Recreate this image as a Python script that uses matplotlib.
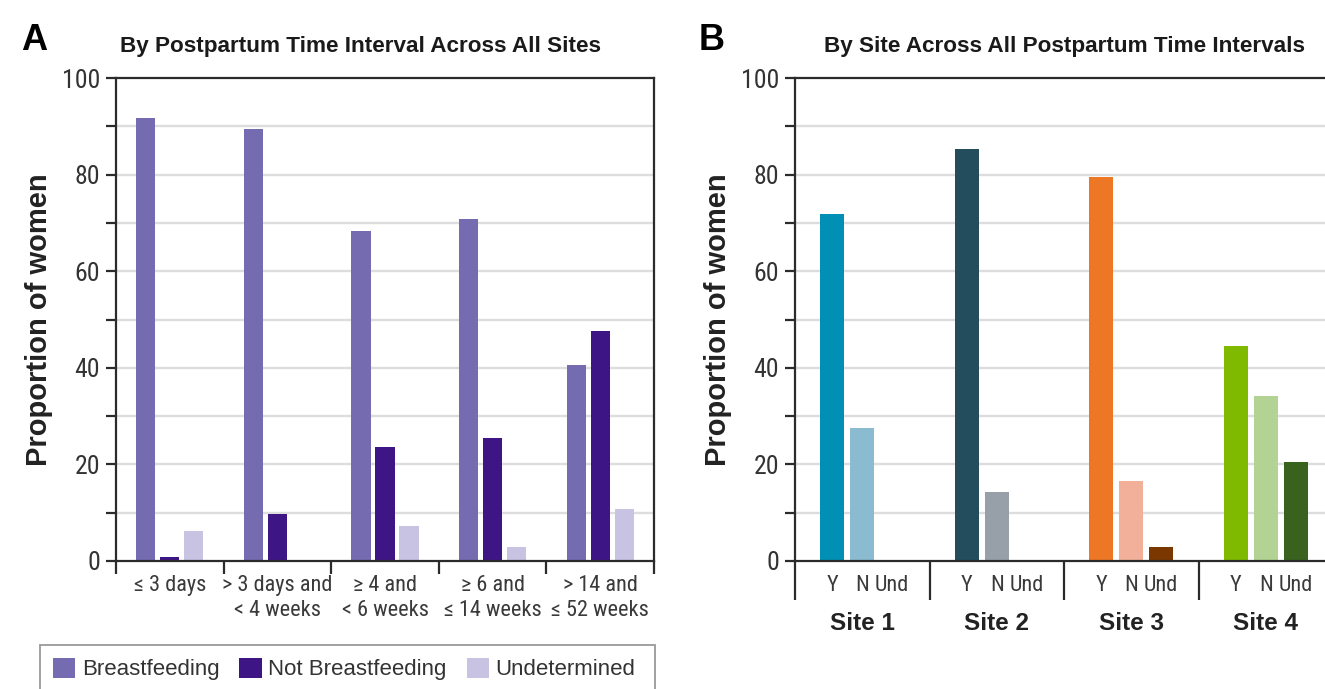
import numpy as np
import matplotlib.pyplot as plt
from matplotlib.patches import Rectangle, Patch
from matplotlib import font_manager
from matplotlib.font_manager import FontProperties

# Panel A: status by postpartum interval (all sites)
intervals = ["\u2264 3 days", "> 3 days and\n< 4 weeks", "\u2265 4 and\n< 6 weeks",
             "\u2265 6 and\n\u2264 14 weeks", "> 14 and\n\u2264 52 weeks"]
breastfeeding = [91.7, 89.4, 68.3, 70.8, 40.6]
not_breastfeeding = [0.8, 9.7, 23.5, 25.4, 47.6]
undetermined = [6.2, 0.0, 7.2, 2.8, 10.7]
status_colors = ["#756bb1", "#3d1585", "#c8c3e3"]
status_names = ["Breastfeeding", "Not Breastfeeding", "Undetermined"]

# Panel B: status by site (all intervals)
sites = ["Site 1", "Site 2", "Site 3", "Site 4"]
site_yes = [71.8, 85.2, 79.6, 44.5]
site_no = [27.6, 14.2, 16.5, 34.2]
site_und = [0.0, 0.0, 3.0, 20.6]
sub_labels = ["Y", "N", "Und"]
site_colors = [
    ["#0090b5", "#8abbd0", "#5a8fa8"],
    ["#234c5c", "#97a0a8", "#6b7780"],
    ["#ee7725", "#f2b09a", "#7a3800"],
    ["#7fba00", "#b2d393", "#38621d"],
]

plt.rcParams["font.family"] = ["Liberation Sans", "DejaVu Sans"]

# look for a condensed / narrow regular face for the small axis text
def find_condensed():
    best = None
    for f in font_manager.fontManager.ttflist:
        nm = f.name.lower()
        cond = ("condensed" in str(f.stretch) or "narrow" in nm or "condensed" in nm)
        if not cond or f.style != "normal":
            continue
        w = f.weight if isinstance(f.weight, int) else 400
        if w != 400:
            continue
        if "mono" in nm or ("serif" in nm and "sans" not in nm):
            continue
        if "semi" in str(f.stretch):
            continue
        best = f.fname
        if "roboto" in nm or "liberation" in nm:
            break
    return best

cond_file = find_condensed()
if cond_file:
    narrow = FontProperties(fname=cond_file)
    nscale = 1.0
else:
    narrow = FontProperties(family="Liberation Sans")
    nscale = 0.85

def nf(size):
    fp = narrow.copy()
    fp.set_size(size * nscale)
    return fp

W, H = 1325, 689
fig = plt.figure(figsize=(W / 100, H / 100), dpi=100)

def px_axes(x0, x1, y0, y1):
    return fig.add_axes([x0 / W, 1 - y1 / H, (x1 - x0) / W, (y1 - y0) / H])

dark = "#2b2b2b"
bw, off = 0.178, 0.223

def style_axes(ax, ngroups, sep_len):
    ax.set_ylim(0, 100)
    ax.set_xlim(-0.5, ngroups - 0.5)
    ax.set_yticks(np.arange(0, 101, 20))
    ax.set_yticks(np.arange(10, 100, 20), minor=True)
    ax.set_yticklabels([str(v) for v in range(0, 101, 20)], color="#333333",
                       fontproperties=nf(18.5))
    ax.tick_params(axis="y", which="both", length=7.5, width=1.6, color=dark,
                   direction="out", pad=4)
    for v in range(10, 100, 10):
        ax.axhline(v, color="#dddddd", lw=1.7, zorder=0)
    ax.set_xticks(np.arange(-0.5, ngroups, 1.0))
    ax.set_xticklabels([])
    ax.tick_params(axis="x", which="major", length=sep_len, width=1.6,
                   color=dark, direction="out")
    for s in ax.spines.values():
        s.set_color(dark)
        s.set_linewidth(1.6)
    ax.set_ylabel("Proportion of women", fontsize=21, fontweight="bold",
                  color="#222222")
    ax.yaxis.set_label_coords(-0.117, 0.5)

# ---- Panel A ----
axA = px_axes(116, 654, 78, 561)
x = np.arange(len(intervals))
for i, (vals, c) in enumerate(zip([breastfeeding, not_breastfeeding, undetermined],
                                  status_colors)):
    axA.bar(x + (i - 1) * off, vals, width=bw, color=c, zorder=2)
style_axes(axA, len(intervals), 9)
for xi, lab in zip(x, intervals):
    axA.text(xi, -0.03, lab, transform=axA.get_xaxis_transform(), ha="center",
             va="top", color="#3a3a3a", fontproperties=nf(16), linespacing=1.2)
axA.set_title("By Postpartum Time Interval Across All Sites", fontsize=16.2,
              fontweight="bold", color="#1a1a1a", pad=19, x=0.455)

# ---- Panel B ----
axB = px_axes(795, 1333, 78, 561)
xs = np.arange(len(sites))
for j, vals in enumerate([site_yes, site_no, site_und]):
    axB.bar(xs + (j - 1) * off, vals, width=bw,
            color=[site_colors[k][j] for k in range(len(sites))], zorder=2)
style_axes(axB, len(sites), 28)
tr = axB.get_xaxis_transform()
for k, s in enumerate(sites):
    for j, sl in enumerate(sub_labels):
        axB.text(xs[k] + (j - 1) * off, -0.03, sl, transform=tr, ha="center",
                 va="top", color="#3a3a3a", fontproperties=nf(16))
    axB.text(xs[k], -0.105, s, transform=tr, ha="center", va="top",
             fontsize=17.5, fontweight="bold", color="#222222")
axB.set_title("By Site Across All Postpartum Time Intervals", fontsize=16.2,
              fontweight="bold", color="#1a1a1a", pad=19, x=(1064 - 795) / 538)

# panel letters
fig.text(21 / W, 1 - 40 / H, "A", fontsize=26, fontweight="bold", va="center")
fig.text(699 / W, 1 - 40 / H, "B", fontsize=26, fontweight="bold", va="center")

# legend box, running off the bottom edge
fig.patches.append(Rectangle((40 / W, -0.02), 615 / W, (H - 645) / H + 0.02,
                             transform=fig.transFigure, fill=False,
                             edgecolor="#9a9a9a", lw=1.3))
handles = [Patch(facecolor=c, edgecolor="none") for c in status_colors]
fig.legend(handles, status_names, loc="center left",
           bbox_to_anchor=(44 / W, 1 - 669 / H), borderaxespad=0, ncol=3,
           frameon=False, fontsize=16, handlelength=1.0, handleheight=1.0,
           handletextpad=0.3, columnspacing=0.9, labelcolor="#333333")

fig.savefig("out.png", dpi=100)
